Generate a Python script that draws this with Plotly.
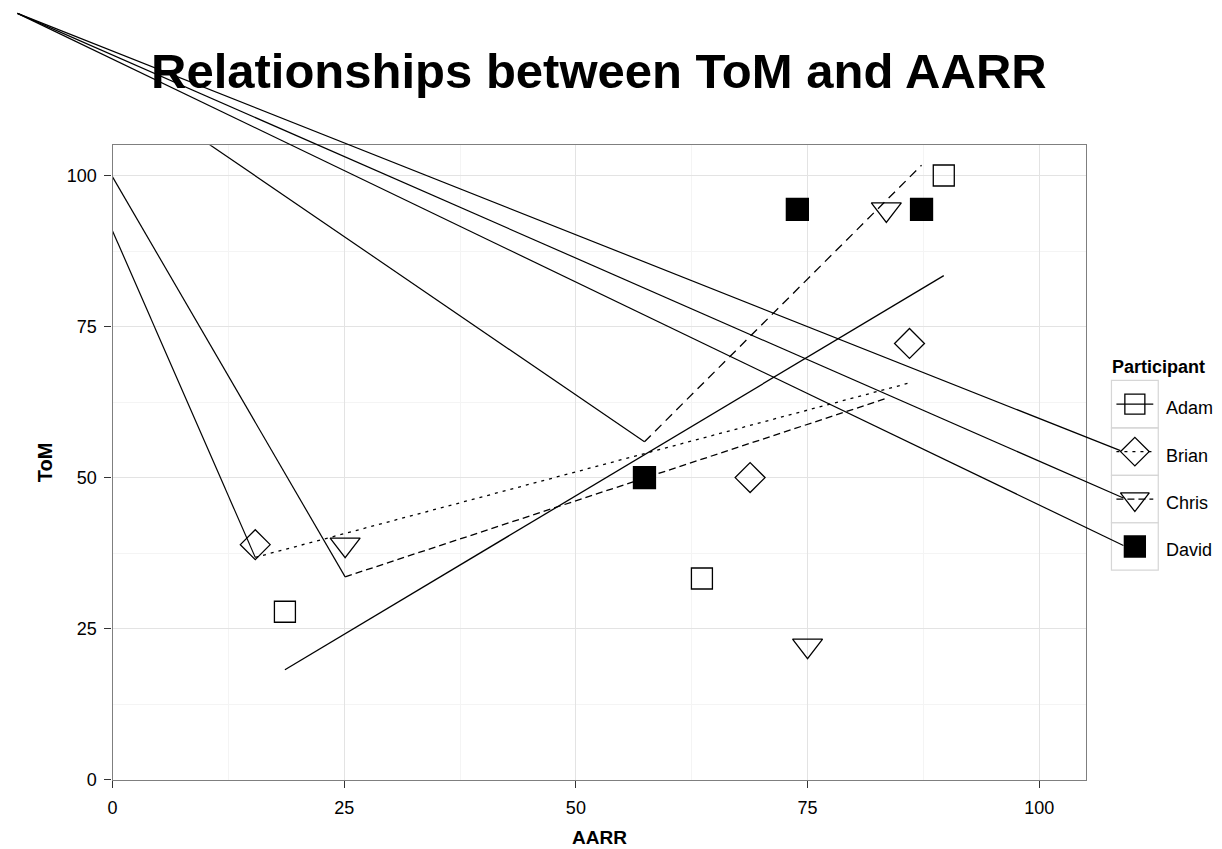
import numpy as np
import plotly.graph_objects as go

# ---- data -------------------------------------------------------------
participants = ["Adam", "Brian", "Chris", "David"]

adam_aarr = [18.6, 63.6, 89.7]
adam_tom = [27.8, 33.3, 100.0]
brian_aarr = [15.4, 68.8, 86.0]
brian_tom = [38.9, 50.0, 72.2]
chris_aarr = [25.1, 75.0, 83.5]
chris_tom = [38.9, 22.2, 94.4]
david_aarr = [57.4, 73.9, 87.3]
david_tom = [50.0, 94.4, 94.4]

x_ticks = [0, 25, 50, 75, 100]
y_ticks = [0, 25, 50, 75, 100]

# ---- styling / layout -------------------------------------------------
W, H = 1222, 849
P_LEFT, P_RIGHT, P_TOP, P_BOTTOM = 108, 1085, 147, 789   # panel box, px
X_RANGE = [0, 105]
Y_RANGE = [0, 105]
FONT = "Liberation Sans, Arial, Helvetica, sans-serif"

# per-participant point symbol, size and smoother dash
symbols = {"Adam": "square-open", "Brian": "diamond-open",
           "Chris": "triangle-down-open", "David": "square"}
sizes = {"Adam": 21, "Brian": 23, "Chris": 26, "David": 22}
dashes = {"Adam": "solid", "Brian": "3px,5px", "Chris": "7px,4px", "David": "9px,6px"}

# legend box geometry (px)
LEG_LEFT, LEG_RIGHT = 1111, 1158
LEG_TOP, LEG_CELL = 385, 48
LEG_TEXT_X = 1164

# stray path origin of the graphics device (px)
ORIGIN_PX = (12.5, 13.5)

series = {
    "Adam": (adam_aarr, adam_tom),
    "Brian": (brian_aarr, brian_tom),
    "Chris": (chris_aarr, chris_tom),
    "David": (david_aarr, david_tom),
}

sx = (P_RIGHT - P_LEFT) / (X_RANGE[1] - X_RANGE[0])
sy = (P_BOTTOM - P_TOP) / (Y_RANGE[1] - Y_RANGE[0])


def px_to_data(px, py):
    return X_RANGE[0] + (px - P_LEFT) / sx, Y_RANGE[0] + (P_BOTTOM - py) / sy


ox, oy = px_to_data(*ORIGIN_PX)

fig = go.Figure()

# linear fits (one per participant) over each participant's AARR span
fits = {}
for name in participants:
    xs, ys = series[name]
    slope, icpt = np.polyfit(xs, ys, 1)
    x0, x1 = min(xs), max(xs)
    fits[name] = ([x0, x1], [icpt + slope * x0, icpt + slope * x1])

# stray segments into the start of each later path (clipped by the panel)
for name in participants[1:]:
    fx, fy = fits[name]
    fig.add_trace(go.Scatter(x=[ox, fx[0]], y=[oy, fy[0]], mode="lines",
                             line=dict(color="black", width=1.2),
                             showlegend=False, hoverinfo="skip"))

for name in participants:
    fx, fy = fits[name]
    fig.add_trace(go.Scatter(x=fx, y=fy, mode="lines",
                             line=dict(color="black", width=1.3, dash=dashes[name]),
                             showlegend=False, hoverinfo="skip"))

for name in participants:
    xs, ys = series[name]
    fig.add_trace(go.Scatter(x=xs, y=ys, mode="markers", name=name,
                             marker=dict(symbol=symbols[name], size=sizes[name],
                                         color="black",
                                         line=dict(color="black", width=1.3)),
                             showlegend=False))

# ---- hand-built legend on a full-page pixel canvas (x2/y2) ------------
shapes = []
annotations = []
key_x0, key_x1 = LEG_LEFT + 5, LEG_RIGHT - 5
for i, name in enumerate(participants):
    top = LEG_TOP + i * LEG_CELL
    cy = top + LEG_CELL / 2
    shapes.append(dict(type="rect", xref="x2", yref="y2",
                       x0=LEG_LEFT, x1=LEG_RIGHT, y0=top, y1=top + LEG_CELL,
                       line=dict(color="#D6D6D6", width=1.2), layer="below"))
    if i > 0:
        # stray path from the device origin to the key
        fig.add_trace(go.Scatter(x=[ORIGIN_PX[0], key_x0 + 3 * (i > 1) + 4], y=[ORIGIN_PX[1], cy - 1],
                                 mode="lines", line=dict(color="black", width=1.2),
                                 xaxis="x2", yaxis="y2", showlegend=False,
                                 hoverinfo="skip"))
    if name != "David":
        fig.add_trace(go.Scatter(x=[key_x0, key_x1], y=[cy, cy], mode="lines",
                                 line=dict(color="black", width=1.2, dash=dashes[name]),
                                 xaxis="x2", yaxis="y2", showlegend=False,
                                 hoverinfo="skip"))
    fig.add_trace(go.Scatter(x=[(LEG_LEFT + LEG_RIGHT) / 2], y=[cy], mode="markers",
                             marker=dict(symbol=symbols[name], size=sizes[name] - 1,
                                         color="black",
                                         line=dict(color="black", width=1.3)),
                             xaxis="x2", yaxis="y2", showlegend=False,
                             hoverinfo="skip"))
    annotations.append(dict(text=name, xref="x2", yref="y2", x=LEG_TEXT_X, y=cy + 4,
                            xanchor="left", yanchor="middle", showarrow=False,
                            font=dict(family=FONT, size=18, color="black")))

annotations.append(dict(text="<b>Participant</b>", xref="x2", yref="y2",
                        x=LEG_LEFT - 1, y=371, xanchor="left", yanchor="middle",
                        showarrow=False, font=dict(family=FONT, size=18, color="black")))

# title and axis titles
annotations.append(dict(text="<b>Relationships between ToM and AARR</b>",
                        xref="x domain", yref="y2", x=0.5, y=72,
                        xanchor="center", yanchor="middle", showarrow=False,
                        font=dict(family=FONT, size=49, color="black")))
annotations.append(dict(text="<b>AARR</b>", xref="x domain", yref="y2", x=0.5, y=847,
                        xanchor="center", yanchor="middle", showarrow=False,
                        font=dict(family=FONT, size=19, color="black")))
annotations.append(dict(text="<b>ToM</b>", xref="x2", yref="y2", x=41, y=468,
                        xanchor="center", yanchor="middle", textangle=-90,
                        showarrow=False, font=dict(family=FONT, size=20, color="black")))

axis_common = dict(
    showline=True, mirror=True, linecolor="#7F7F7F", linewidth=1.3,
    showgrid=True, gridcolor="#E3E3E3", gridwidth=1.2,
    minor=dict(showgrid=True, gridcolor="#F4F4F4", gridwidth=1),
    zeroline=False, ticks="outside", ticklen=7, tickwidth=1.2, tickcolor="#333333",
    tickfont=dict(family=FONT, size=18, color="black"), fixedrange=True,
)

fig.update_layout(
    width=W, height=H, autosize=False,
    margin=dict(l=0, r=0, t=0, b=0, pad=0),
    paper_bgcolor="white", plot_bgcolor="rgba(0,0,0,0)",
    xaxis=dict(domain=[P_LEFT / W, P_RIGHT / W], range=X_RANGE,
               tickvals=x_ticks, minor_dtick=12.5, ticklabelstandoff=5, **axis_common),
    yaxis=dict(domain=[1 - P_BOTTOM / H, 1 - P_TOP / H], range=Y_RANGE,
               tickvals=y_ticks, minor_dtick=12.5, ticklabelstandoff=4, **axis_common),
    xaxis2=dict(domain=[0, 1], range=[0, W], visible=False, anchor="y2", fixedrange=True),
    yaxis2=dict(domain=[0, 1], range=[H, 0], visible=False, anchor="x2", fixedrange=True),
    shapes=shapes, annotations=annotations, showlegend=False,
)

fig.write_html("out.html")
